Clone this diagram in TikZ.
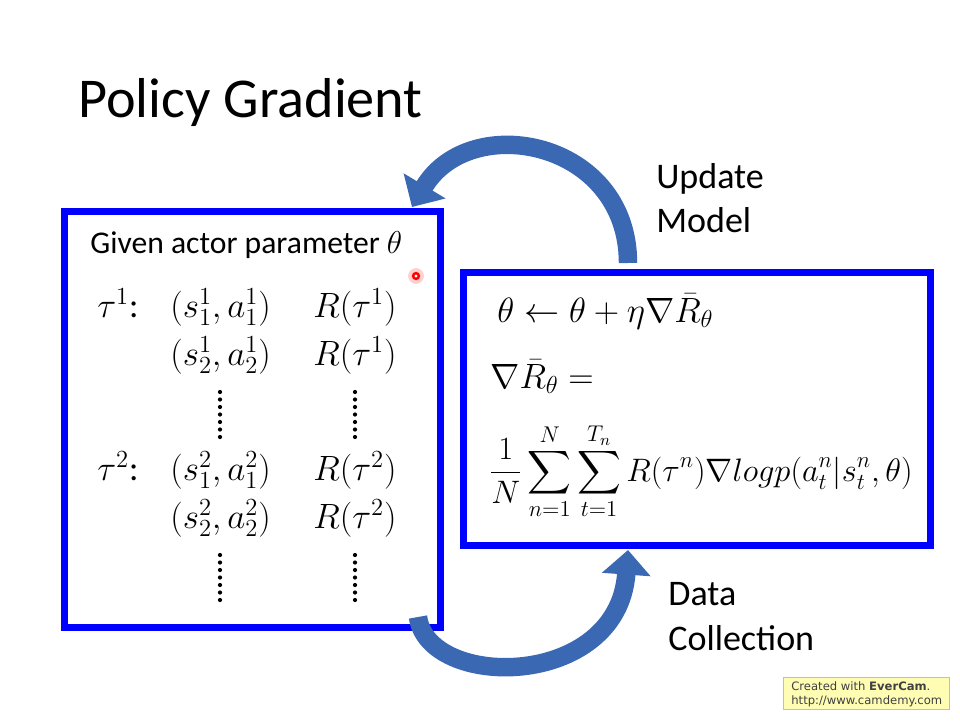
\RequirePackage{fix-cm}
\documentclass[tikz,border=0pt]{standalone}
\usepackage{amsmath}
\usepackage{fontspec}
\setmainfont{Carlito}
\newfontfamily\stampfont{DejaVu Sans}
\usepackage{tikz}
\usetikzlibrary{positioning,arrows.meta,calc}
\definecolor{boxblue}{HTML}{0000FF}
\definecolor{arrowblue}{HTML}{3B68B2}
\definecolor{stampyellow}{HTML}{FFFCB4}

\begin{document}
\begin{tikzpicture}[x=0.02cm, y=-0.02cm,
  bluebox/.style={draw=boxblue, line width=4pt, inner sep=0pt},
  looparrow/.style={arrowblue, line width=10.5pt, -{Triangle[width=27pt, length=14pt]}},
  mathtxt/.style={anchor=base west, inner sep=0pt, font=\fontsize{20}{24}\selectfont},
  labeltxt/.style={anchor=base west, inner sep=0pt, font=\fontsize{20.5}{25}\selectfont}]

  % Fondo (fija el tamano de la diapositiva)
  \fill[white] (0,0) rectangle (960,720);

  % Titulo
  \node[anchor=base west, inner sep=0pt, font=\fontsize{32}{38}\selectfont] (title)
    at (78,117) {Policy Gradient};

  % Cajas
  \node[bluebox, minimum width=7.54cm, minimum height=8.34cm] (actorbox) at (252.5,419.5) {};
  \node[bluebox, minimum width=9.36cm, minimum height=5.48cm] (gradbox) at (697,409) {};

  % Caja izquierda: trayectorias
  \node[anchor=base west, inner sep=0pt, font=\fontsize{18}{22}\selectfont] (given)
    at (90,253) {Given actor parameter $\theta$};
  \node[mathtxt] (tau1) at (97,317) {$\tau^1$:};
  \node[mathtxt] (tau2) at (97,480) {$\tau^2$:};
  \foreach \n/\k/\y in {1/1/317, 1/2/365, 2/1/480, 2/2/528}{
    \node[mathtxt] (sa\n\k) at (170,\y) {$(s_\k^\n,a_\k^\n)$};
    \node[mathtxt] (r\n\k) at (313,\y) {$R(\tau^\n)$};
  }

  % Puntos suspensivos verticales
  \foreach \y in {392,555}{
    \foreach \k in {0,...,6}{
      \fill (220,\y+\k*7.5) circle (1.2pt);
      \fill (355,\y+\k*7.5) circle (1.2pt);
    }
  }

  % Caja derecha: actualizacion del gradiente
  \node[mathtxt] (update) at (497,322) {$\theta \leftarrow \theta + \eta\nabla\bar{R}_\theta$};
  \node[mathtxt] (gradR) at (490,388) {$\nabla\bar{R}_\theta =$};
  \node[mathtxt, font=\fontsize{18.5}{22}\selectfont] (estimate) at (489,481)
    {$\displaystyle\frac{1}{N}\sum_{n=1}^{N}\sum_{t=1}^{T_n}R(\tau^n)\nabla logp(a_t^n|s_t^n,\theta)$};

  % Flechas del ciclo
  \coordinate (modelfrom) at (628,263);
  \coordinate (modelto) at (412,207);
  \draw[looparrow] (modelfrom) .. controls (628,140) and (470,110) .. (modelto);
  \coordinate (datafrom) at (418,617);
  \coordinate (datato) at (628,550);
  \draw[looparrow] (datafrom) .. controls (428,690) and (618,690) .. (datato);

  % Etiquetas de las flechas
  \node[labeltxt] (update1) at (656,188) {Update};
  \node[labeltxt] (update2) at (656,232) {Model};
  \node[labeltxt] (data1) at (668,605) {Data};
  \node[labeltxt] (data2) at (668,650) {Collection};

  % Puntero laser
  \fill[red!30, opacity=0.6] (416,276) circle (4.5pt);
  \fill[red] (416,276) circle (2.4pt);
  \fill[white] (416,276) circle (0.9pt);

  % Marca de agua
  \node[draw=gray!50, fill=stampyellow, minimum width=3.32cm, minimum height=0.64cm,
    inner sep=0pt] (stamp) at (866,693) {};
  \node[anchor=base west, inner sep=0pt, text=black!75, font=\stampfont\fontsize{6.6}{8}\selectfont]
    (stamp1) at (791,690) {Created with \textbf{EverCam}.};
  \node[anchor=base west, inner sep=0pt, text=black!75, font=\stampfont\fontsize{6.6}{8}\selectfont]
    (stamp2) at (791,704) {http://www.camdemy.com};
\end{tikzpicture}
\end{document}
